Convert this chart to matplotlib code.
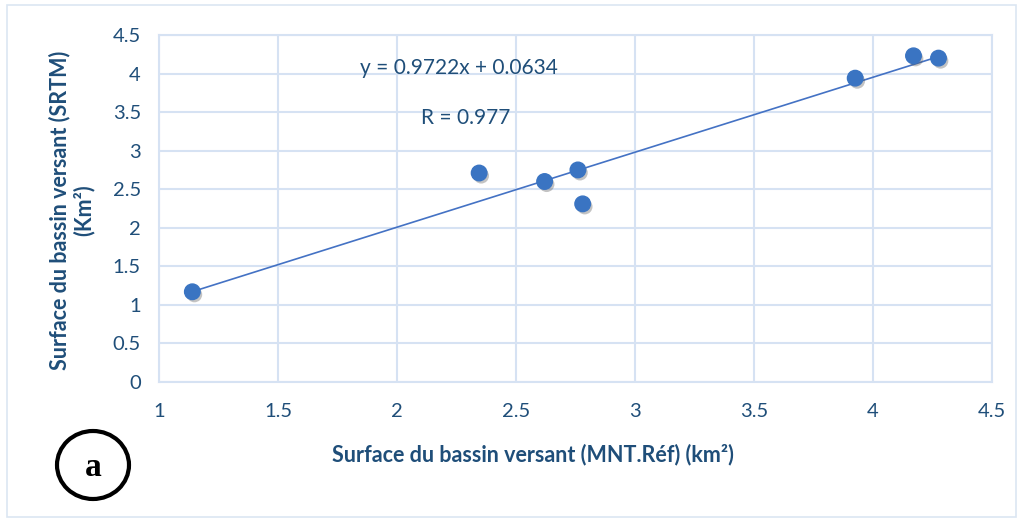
import matplotlib.pyplot as plt
import matplotlib.patheffects as pe
from matplotlib.patches import Ellipse, Rectangle
import numpy as np

# surfaces (km2): reference DEM vs SRTM
mnt_ref = [1.14, 2.345, 2.62, 2.76, 2.78, 3.925, 4.17, 4.275]
srtm = [1.17, 2.71, 2.60, 2.75, 2.31, 3.94, 4.23, 4.20]
slope = 0.9722
intercept = 0.0634
eq_text = "y = 0.9722x + 0.0634"
r_text = "R = 0.977"

x_ticks = [1, 1.5, 2, 2.5, 3, 3.5, 4, 4.5]
x_labels = ["1", "1.5", "2", "2.5", "3", "3.5", "4", "4.5"]
y_ticks = [0, 0.5, 1, 1.5, 2, 2.5, 3, 3.5, 4, 4.5]
y_labels = ["0", "0.5", "1", "1.5", "2", "2.5", "3", "3.5", "4", "4.5"]

text_col = "#1F4E79"
grid_col = "#D6E2F3"
point_col = "#3A74C2"
line_col = "#4472C4"

plt.rcParams['font.family'] = ['Lato', 'DejaVu Sans']

fig = plt.figure(figsize=(10.24, 5.23), dpi=100)
ax = fig.add_axes([0.1553, 0.2696, 0.8135, 0.6635])

# trend line across the data range
xl = np.array([min(mnt_ref), max(mnt_ref)])
ax.plot(xl, slope * xl + intercept, color=line_col, lw=1.2, zorder=3)

ax.scatter(mnt_ref, srtm, s=125, color=point_col, zorder=4,
           path_effects=[pe.SimplePatchShadow(offset=(1.5, -2), alpha=0.35, shadow_rgbFace="#555555"),
                         pe.Normal()])

ax.set_xlim(1, 4.5)
ax.set_ylim(0, 4.5)
ax.set_xticks(x_ticks, x_labels)
ax.set_yticks(y_ticks, y_labels)
ax.tick_params(axis='both', length=0, labelsize=14.5, colors=text_col)
ax.tick_params(axis='x', pad=15)
ax.tick_params(axis='y', pad=13)
ax.grid(True, color=grid_col, lw=1.5)
ax.set_axisbelow(True)
for s in ax.spines.values():
    s.set_color(grid_col)
    s.set_linewidth(1.5)

ax.text(2.26, 4.07, eq_text, ha='center', va='center', fontsize=15, color=text_col)
ax.text(2.29, 3.42, r_text, ha='center', va='center', fontsize=15, color=text_col)

fig.text(533 / 1024, 1 - 455 / 523, "Surface du bassin versant (MNT.Réf) (km²)",
         ha='center', va='center', fontsize=15.5, fontweight='bold', color=text_col)
fig.text(72 / 1024, 1 - 210 / 523, "Surface du bassin versant (SRTM)\n(Km²)", rotation=90,
         ha='center', va='center', fontsize=15.5, fontweight='bold', color=text_col,
         linespacing=1.15)

# panel label
fig.patches.append(Ellipse((93 / 1024, 1 - 465 / 523), 72 / 1024, 68 / 523,
                           transform=fig.transFigure, fill=False, lw=3, ec='black'))
fig.text(93 / 1024, 1 - 468 / 523, "a", ha='center', va='center', fontsize=24,
         fontweight='bold', family='Liberation Serif')

# outer frame
fig.patches.append(Rectangle((7 / 1024, 6 / 523), 1009 / 1024, 512 / 523,
                             transform=fig.transFigure, fill=False, lw=1.2, ec="#DCE6F2"))

fig.savefig("out.png", dpi=100)
